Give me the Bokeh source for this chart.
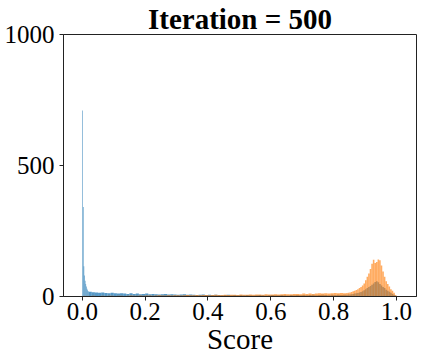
import numpy as np
from bokeh.plotting import figure
from bokeh.models import Range1d, FixedTicker, Title
from bokeh.embed import file_html
from bokeh.resources import INLINE

# ---- data (bin counts) ----
# fine bins 0.000-0.020 (step 0.002)
blue_fine = [710, 342, 115, 80, 60, 48, 38, 30, 24, 20]
orange_fine = [2, 3, 2, 3, 2, 2, 3, 2, 2, 3]

# middle bins 0.02-0.84 (step 0.01)
blue_mid = [18, 16, 15, 14, 15, 13, 12, 14, 12, 11,
            12, 11, 10, 12, 10, 11, 9, 10, 11, 9,
            10, 9, 8, 9, 10, 8, 9, 8, 7, 8,
            9, 7, 8, 7, 6, 7, 8, 6, 7, 6,
            7, 6, 5, 6, 7, 5, 6, 5, 6, 5,
            6, 5, 4, 5, 6, 5, 4, 5, 6, 5,
            5, 6, 5, 4, 6, 5, 6, 5, 6, 5,
            6, 7, 5, 6, 7, 6, 5, 7, 6, 7,
            6, 7]
orange_mid = [2, 3, 2, 2, 3, 2, 3, 3, 2, 3,
              3, 2, 3, 4, 3, 3, 4, 3, 4, 4,
              3, 4, 5, 4, 4, 5, 4, 5, 5, 4,
              5, 6, 5, 5, 6, 5, 6, 6, 5, 6,
              7, 6, 6, 7, 6, 7, 7, 6, 8, 7,
              7, 8, 7, 8, 8, 7, 9, 8, 8, 9,
              8, 9, 10, 9, 9, 10, 10, 9, 11, 10,
              11, 10, 11, 12, 11, 12, 11, 12, 13, 12,
              13, 12]

# right bins 0.84-1.00 (step 0.005)
blue_right = [7, 8, 8, 9, 10, 11, 12, 13, 15, 17,
              20, 24, 28, 32, 36, 40, 45, 50, 55, 58,
              54, 48, 42, 36, 32, 26, 22, 18, 14, 10,
              7, 3]
orange_right = [13, 14, 15, 17, 20, 22, 25, 28, 32, 36,
                42, 50, 62, 75, 88, 105, 125, 140, 128, 132,
                141, 138, 118, 95, 75, 58, 48, 38, 28, 22,
                14, 6]

x_ticks = [0.0, 0.2, 0.4, 0.6, 0.8, 1.0]
y_ticks = [0, 500, 1000]

# ---- bin edges ----
e_fine = np.round(np.arange(0, 0.0201, 0.002), 4)
e_mid = np.round(np.arange(0.02, 0.8401, 0.01), 4)
e_right = np.round(np.arange(0.84, 1.0001, 0.005), 4)
left = np.concatenate([e_fine[:-1], e_mid[:-1], e_right[:-1]])
right = np.concatenate([e_fine[1:], e_mid[1:], e_right[1:]])
blue = np.array(blue_fine + blue_mid + blue_right)
orange = np.array(orange_fine + orange_mid + orange_right)

FONT = "Liberation Serif"

p = figure(width=423, height=363, output_backend="svg", toolbar_location=None,
           x_range=Range1d(-0.06, 1.064), y_range=Range1d(0, 1000),
           min_border_left=63, min_border_right=7, min_border_top=0,
           min_border_bottom=67)

p.title = Title(text="Iteration = 500", align="center", text_font=FONT,
                text_font_size="29px", text_font_style="bold",
                text_color="black", standoff=0, offset=0)

p.quad(left=left, right=right, bottom=0, top=blue, fill_color="#1f77b4",
       fill_alpha=0.75, line_alpha=0)
p.quad(left=left, right=right, bottom=0, top=orange, fill_color="#ff7f0e",
       fill_alpha=0.65, line_alpha=0)

p.xgrid.visible = False
p.ygrid.visible = False
p.outline_line_color = "#222222"
p.outline_line_width = 1
p.background_fill_color = "white"
p.border_fill_color = "white"

p.xaxis.ticker = FixedTicker(ticks=x_ticks)
p.xaxis.major_label_overrides = {t: f"{t:.1f}" for t in x_ticks}
p.yaxis.ticker = FixedTicker(ticks=y_ticks)
p.xaxis.axis_label = "Score"

for ax in (p.xaxis[0], p.yaxis[0]):
    ax.major_label_text_font = FONT
    ax.major_label_text_font_size = "25px"
    ax.major_label_text_color = "black"
    ax.axis_label_text_font = FONT
    ax.axis_label_text_font_size = "29px"
    ax.axis_label_text_font_style = "normal"
    ax.axis_label_text_color = "black"
    ax.minor_tick_line_color = None
    ax.major_tick_out = 4
    ax.major_tick_in = 0
    ax.axis_line_color = "#222222"
    ax.major_tick_line_color = "#222222"

p.xaxis.major_label_standoff = 2
p.xaxis.axis_label_standoff = 0
p.yaxis.major_label_standoff = 5

open("out.html", "w").write(file_html(p, INLINE))
